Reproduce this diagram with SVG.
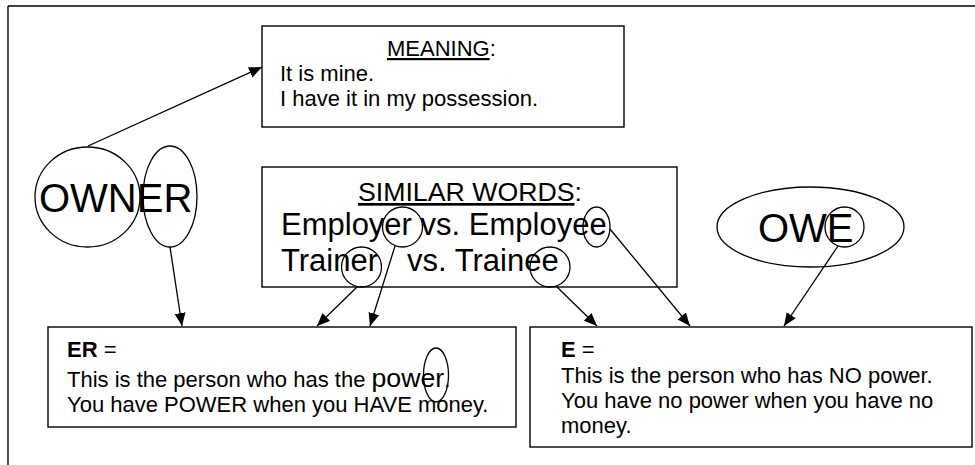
<svg xmlns="http://www.w3.org/2000/svg" width="975" height="465" viewBox="0 0 975 465">
<style>
text{font-family:"Liberation Sans",Arial,sans-serif;fill:#000}
.box{fill:#fff;stroke:#000;stroke-width:1.4}
.ring{fill:none;stroke:#000;stroke-width:1.3}
.conn{fill:none;stroke:#000;stroke-width:1.3;marker-end:url(#arr)}
.t22{font-size:22px}
.big{font-size:40px}
.ul{text-decoration:underline}
</style>
<defs>
<marker id="arr" markerUnits="userSpaceOnUse" markerWidth="14" markerHeight="12" refX="13" refY="5.5" orient="auto">
<path d="M0,0 L13,5.5 L0,11 z" fill="#000"/>
</marker>
</defs>
<rect x="0" y="0" width="975" height="465" fill="#fff"/>
<g id="frame">
<line x1="8" y1="6" x2="975" y2="6" stroke="#000" stroke-width="1.6"/>
<line x1="8" y1="6" x2="8" y2="465" stroke="#000" stroke-width="1.4"/>
</g>
<g id="meaning">
<rect class="box" x="262" y="26" width="362" height="101"/>
<text class="t22" x="387" y="56"><tspan class="ul">MEANING</tspan>:</text>
<text class="t22" x="280" y="81">It is mine.</text>
<text class="t22" x="280" y="106">I have it in my possession.</text>
</g>
<g id="owner">
<text class="big" x="39" y="212">OWNER</text>
<ellipse class="ring" cx="87.5" cy="197" rx="52.5" ry="50"/>
<ellipse class="ring" cx="170" cy="196.5" rx="27" ry="50.5"/>
</g>
<g id="similar">
<rect class="box" x="262" y="167" width="415" height="120"/>
<text x="358" y="201" font-size="26.7"><tspan class="ul">SIMILAR WORDS</tspan>:</text>
<text x="281" y="235" font-size="31">Employer vs. Employee</text>
<text x="281" y="271" font-size="31">Trainer<tspan x="407">vs. Trainee</tspan></text>
<circle class="ring" cx="402.5" cy="227" r="20"/>
<circle class="ring" cx="361.5" cy="267" r="20"/>
<ellipse class="ring" cx="596.5" cy="227" rx="13.5" ry="20"/>
<circle class="ring" cx="550" cy="267" r="20"/>
</g>
<g id="owe">
<ellipse class="ring" cx="810.5" cy="227" rx="93.5" ry="40"/>
<text class="big" x="758" y="242">OWE</text>
<ellipse class="ring" cx="844.5" cy="227" rx="19.5" ry="20"/>
</g>
<g id="er-box">
<rect class="box" x="48" y="327" width="468" height="100"/>
<text class="t22" x="67" y="357"><tspan font-weight="bold">ER</tspan> =</text>
<text class="t22" x="67" y="387">This is the person who has the <tspan font-size="26.7">power</tspan>.</text>
<text class="t22" x="67" y="412">You have POWER when you HAVE money.</text>
<ellipse class="ring" cx="436" cy="375" rx="12.5" ry="27"/>
</g>
<g id="e-box">
<rect class="box" x="530" y="327" width="442" height="120"/>
<text class="t22" x="561" y="357"><tspan font-weight="bold">E</tspan> =</text>
<text class="t22" x="561" y="383">This is the person who has NO power.</text>
<text class="t22" x="561" y="408">You have no power when you have no</text>
<text class="t22" x="561" y="433">money.</text>
</g>
<g id="connectors">
<line class="conn" x1="88" y1="146" x2="262" y2="67"/>
<line class="conn" x1="170" y1="247" x2="182" y2="326"/>
<line class="conn" x1="357" y1="287" x2="317" y2="326"/>
<line class="conn" x1="395" y1="246" x2="370" y2="326"/>
<line class="conn" x1="557" y1="287" x2="597" y2="326"/>
<line class="conn" x1="610" y1="229" x2="690" y2="326"/>
<line class="conn" x1="838" y1="246" x2="784" y2="326"/>
</g>
</svg>
